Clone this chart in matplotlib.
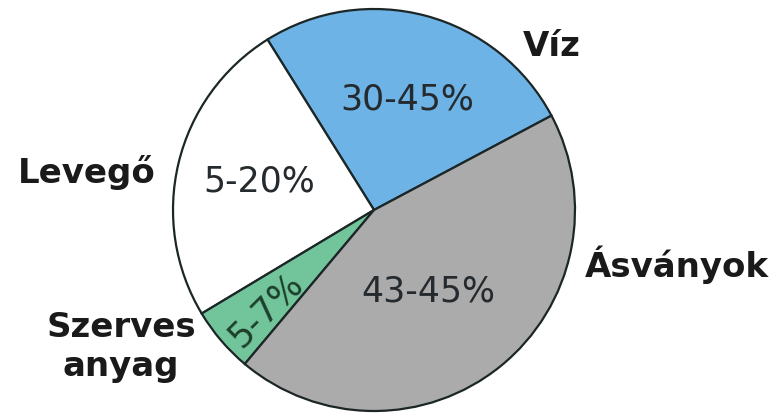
import matplotlib.pyplot as plt

# slice sizes (degrees of arc), counter-clockwise from ~28 deg
names = ["Víz", "Levegő", "Szerves\nanyag", "Ásványok"]
sizes = [94, 89, 19, 158]
ranges = ["30-45%", "5-20%", "5-7%", "43-45%"]
colors = ["#6db3e6", "#ffffff", "#72c49b", "#ababab"]

W, H = 782, 414
fig = plt.figure(figsize=(W / 100, H / 100), dpi=100)
ax = fig.add_axes([0, 0, 1, 1])

cx, cy, r = 374, H - 211, 201
ax.pie(sizes, colors=colors, startangle=28, counterclock=True,
       center=(cx, cy), radius=r, frame=True,
       wedgeprops=dict(edgecolor="#1c2626", linewidth=1.6))
ax.set_xlim(0, W)
ax.set_ylim(0, H)
ax.axis("off")

# percentage ranges inside the slices
inner = dict(fontsize=25, color="#252a2e", ha="center", va="center")
ax.text(407, H - 100, ranges[0], **inner)
ax.text(259, H - 181, ranges[1], **inner)
ax.text(266, H - 310, ranges[2], rotation=45, **dict(inner, color="#1c3f2c"))
ax.text(428, H - 292, ranges[3], **inner)

# bold names outside
outer = dict(fontsize=24.5, fontweight="bold", color="#1a1a1a", va="center")
ax.text(552, H - 46, names[0], ha="center", **outer)
ax.text(87, H - 173, names[1], ha="center", **outer)
ax.text(121, H - 347, names[2], ha="center", linespacing=1.25, **outer)
ax.text(677, H - 265, names[3], ha="center", **outer)

fig.savefig("out.png", dpi=100, facecolor="white")
